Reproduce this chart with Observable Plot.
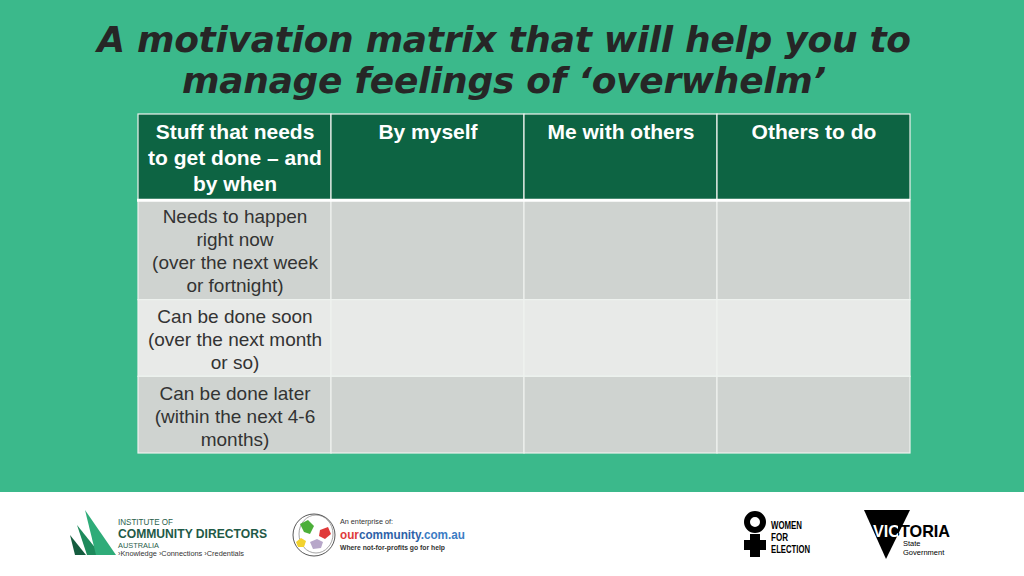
<!DOCTYPE html>
<html><head><meta charset="utf-8">
<script src="https://cdn.jsdelivr.net/npm/d3@7"></script>
<script src="https://cdn.jsdelivr.net/npm/@observablehq/plot@0.6"></script>
<style>
html,body{margin:0;padding:0;}
body{width:1024px;height:576px;overflow:hidden;font-family:"Liberation Sans",Arial,sans-serif;}
#top{background:#3BB98B;height:492px;}
#title{height:110px;box-sizing:border-box;margin:0;padding-top:19px;padding-right:16px;text-align:center;font-family:"DejaVu Sans",sans-serif;font-weight:bold;font-style:oblique;font-size:36px;line-height:41px;color:#262626;white-space:nowrap;letter-spacing:-0.3px;}
#chart svg{display:block;}
#footer{height:84px;background:#fff;}
#footer svg{display:block;}
</style></head><body>
<div id="top">
  <h1 id="title">A motivation matrix that will help you to<br>manage feelings of ‘overwhelm’</h1>
  <div id="chart"></div>
</div>
<div id="footer">
<svg width="1024" height="84" viewBox="0 0 1024 84" font-family="Liberation Sans, Arial, sans-serif">
  <defs>
    <linearGradient id="vicfill" gradientUnits="userSpaceOnUse" x1="873" y1="0" x2="950" y2="0">
      <stop offset="0" stop-color="#fff"/>
      <stop offset="0.33" stop-color="#fff"/>
      <stop offset="0.33" stop-color="#000"/>
      <stop offset="1" stop-color="#000"/>
    </linearGradient>
  </defs>
  <!-- ICDA -->
  <polygon points="70,43 86,63 75,63" fill="#155c3f"/>
  <polygon points="77,33 101,63 87,63" fill="#1e8a5c"/>
  <polygon points="85,18 116,63 96,63" fill="#2fac79"/>
  <text x="118" y="33" font-size="8.5" fill="#2a5e4b" textLength="55" lengthAdjust="spacingAndGlyphs">INSTITUTE OF</text>
  <text x="118" y="46" font-size="12.5" font-weight="bold" fill="#1f5a47" textLength="149" lengthAdjust="spacingAndGlyphs">COMMUNITY DIRECTORS</text>
  <text x="118" y="55.5" font-size="8" fill="#2a5e4b" textLength="41" lengthAdjust="spacingAndGlyphs">AUSTRALIA</text>
  <text x="118" y="64" font-size="7" fill="#333" textLength="126" lengthAdjust="spacingAndGlyphs">›Knowledge  ›Connections  ›Credentials</text>
  <!-- ourcommunity -->
  <ellipse cx="314" cy="43" rx="21" ry="21" fill="none" stroke="#444" stroke-width="0.9"/>
  <ellipse cx="316" cy="42" rx="17" ry="19" fill="none" stroke="#666" stroke-width="0.6"/>
  <path d="M300,32 l8,-4 l6,6 l-4,8 l-6,-2 z" fill="#4caf3a"/>
  <path d="M320,38 l8,-3 l3,7 l-6,5 l-6,-3 z" fill="#e03a3a"/>
  <path d="M296,50 l5,-4 l5,3 l-2,6 l-6,0 z" fill="#f2d22e"/>
  <path d="M310,50 l7,-3 l6,3 l-2,6 l-8,1 z" fill="#b7a7c9"/>
  <text x="340" y="32" font-size="7.5" fill="#333" textLength="53" lengthAdjust="spacingAndGlyphs">An enterprise of:</text>
  <text x="340" y="46.5" font-size="12.5" font-weight="bold" textLength="125" lengthAdjust="spacingAndGlyphs"><tspan fill="#e03a3a">our</tspan><tspan fill="#2e62a8">community</tspan><tspan fill="#3b7cc4">.com.au</tspan></text>
  <text x="340" y="58" font-size="7" font-weight="bold" fill="#333" textLength="105" lengthAdjust="spacingAndGlyphs">Where not-for-profits go for help</text>
  <!-- Women for Election -->
  <circle cx="755" cy="30" r="8" fill="none" stroke="#000" stroke-width="6"/>
  <rect x="750" y="42" width="10" height="23" fill="#000"/>
  <rect x="744" y="48" width="22" height="10" fill="#000"/>
  <g font-family="Liberation Sans Narrow, Liberation Sans, Arial" font-weight="bold" font-size="10.5" fill="#000">
    <text x="771" y="37" textLength="31" lengthAdjust="spacingAndGlyphs">WOMEN</text>
    <text x="771" y="49" textLength="17" lengthAdjust="spacingAndGlyphs">FOR</text>
    <text x="771" y="61" textLength="39" lengthAdjust="spacingAndGlyphs">ELECTION</text>
  </g>
  <!-- Victoria -->
  <polygon points="864,18 910,18 886,67" fill="#000"/>
  <text x="873" y="45" font-size="17" font-weight="bold" fill="url(#vicfill)" textLength="77" lengthAdjust="spacingAndGlyphs">VICTORIA</text>
  <text x="903" y="54" font-size="7.5" fill="#000">State</text>
  <text x="903" y="63" font-size="7.5" fill="#000">Government</text>
</svg>
</div>
<script>
const columns = [
  "Stuff that needs\nto get done – and\nby when",
  "By myself",
  "Me with others",
  "Others to do"
];
const rowLabels = [
  "Needs to happen\nright now\n(over the next week\nor fortnight)",
  "Can be done soon\n(over the next month\nor so)",
  "Can be done later\n(within the next 4-6\nmonths)"
];
const rowKinds = ["header", "shaded", "plain"];

// Row extents follow the number of text lines in each row
const headerLineH = 26, bodyLineH = 23, pad = 7;
const nLines = t => t.split("\n").length;
const rows = [{kind: "header", h: d3.max(columns, nLines) * headerLineH + pad}]
  .concat(rowLabels.map((t, i) => ({kind: i % 2 ? "plain" : "shaded", label: t, h: nLines(t) * bodyLineH + pad})));
let acc = 0;
rows.forEach(r => { r.top = acc; acc += r.h; r.bottom = acc; });
const cells = rows.flatMap(r => columns.map(c => ({col: c, top: r.top, bottom: r.bottom, kind: r.kind})));

const chart = Plot.plot({
  width: 1024,
  height: 382,
  marginTop: 4,
  marginBottom: 39,
  marginLeft: 137,
  marginRight: 114,
  x: {domain: columns, padding: 0, axis: null},
  y: {domain: [0, acc], reverse: true, axis: null},
  color: {domain: rowKinds, range: ["#0D6443", "#CFD3D0", "#E8EAE8"]},
  style: {background: "transparent", fontFamily: "Liberation Sans, Arial, sans-serif"},
  marks: [
    Plot.barY(cells, {x: "col", y1: "top", y2: "bottom", fill: "kind", stroke: "#EEF2EF", strokeWidth: 1.2}),
    Plot.ruleY([rows[0].bottom], {stroke: "#ffffff", strokeWidth: 3}),
    Plot.text(columns, {x: d => d, y: () => rows[0].top, lineAnchor: "top", dy: 6, fill: "#ffffff", fontWeight: "bold", fontSize: 21, lineHeight: 1.24}),
    Plot.text(rows.slice(1), {x: () => columns[0], y: d => (d.top + d.bottom) / 2, text: "label", fill: "#333333", fontSize: 19, lineHeight: 1.21})
  ]
});
document.getElementById("chart").appendChild(chart);
</script>
</body></html>
